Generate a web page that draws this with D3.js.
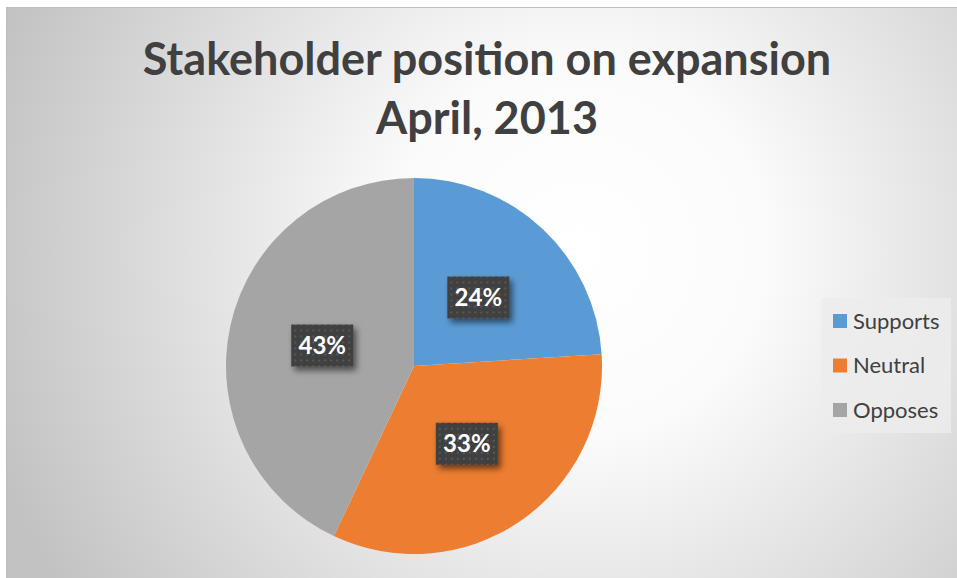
<!DOCTYPE html>
<html>
<head>
<meta charset="utf-8">
<script src="https://cdn.jsdelivr.net/npm/d3@7"></script>
<style>
  html, body { margin: 0; padding: 0; background: #fff; }
  svg { display: block; }
</style>
</head>
<body>
<svg id="chart"></svg>
<script>
// chart data
var categories = ['Supports', 'Neutral', 'Opposes'];
var values = [24, 33, 43];
var colors = ['#5B9BD5', '#ED7D31', '#A5A5A5'];
var titleLines = ['Stakeholder position on expansion', 'April, 2013'];

document.addEventListener('DOMContentLoaded', function () {
    drawChart();
});

function drawChart() {
    var svgWidth = 957, svgHeight = 578;
    var cx = 414, cy = 366, radius = 188;

    var svg = d3.select('#chart')
        .attr('width', svgWidth)
        .attr('height', svgHeight);

    var defs = svg.append('defs');

    // background gradient
    var grad = defs.append('radialGradient')
        .attr('id', 'bg')
        .attr('gradientUnits', 'userSpaceOnUse')
        .attr('cx', 580).attr('cy', 250).attr('r', 620);
    grad.append('stop').attr('offset', '0%').attr('stop-color', '#ffffff');
    grad.append('stop').attr('offset', '30%').attr('stop-color', '#fbfbfb');
    grad.append('stop').attr('offset', '100%').attr('stop-color', '#c2c2c2');

    // dotted pattern for the data label boxes
    var pat = defs.append('pattern')
        .attr('id', 'dots')
        .attr('patternUnits', 'userSpaceOnUse')
        .attr('width', 6).attr('height', 6);
    pat.append('rect').attr('width', 6).attr('height', 6).attr('fill', '#3f3f3f');
    pat.append('rect').attr('x', 2).attr('y', 2).attr('width', 2).attr('height', 2).attr('fill', '#585858');

    var shadow = defs.append('filter')
        .attr('id', 'shadow')
        .attr('x', '-30%').attr('y', '-30%').attr('width', '170%').attr('height', '170%');
    shadow.append('feDropShadow')
        .attr('dx', 3).attr('dy', 4)
        .attr('stdDeviation', 3)
        .attr('flood-color', '#000')
        .attr('flood-opacity', 0.55);

    // chart area
    svg.append('rect')
        .attr('x', 6.5).attr('y', 7.5)
        .attr('width', svgWidth).attr('height', svgHeight)
        .attr('fill', 'url(#bg)')
        .attr('stroke', '#bdbdbd')
        .attr('stroke-width', 1);

    // title
    var title = svg.append('text')
        .attr('text-anchor', 'middle')
        .attr('fill', '#404040')
        .style('font-family', 'Lato, "Open Sans", sans-serif')
        .style('font-weight', 'bold')
        .style('font-size', '45px');
    title.selectAll('tspan')
        .data(titleLines)
        .enter().append('tspan')
        .attr('x', 487)
        .attr('y', (d, i) => 75 + i * 59)
        .text(d => d);

    // pie
    var pie = d3.pie().sort(null).value(d => d.value);
    var data = pie(categories.map((c, i) => ({ name: c, value: values[i], color: colors[i] })));

    var arc = d3.arc().innerRadius(0).outerRadius(radius);

    var g = svg.append('g')
        .attr('transform', 'translate(' + cx + ',' + cy + ')');

    g.selectAll('path')
        .data(data)
        .enter().append('path')
        .attr('d', arc)
        .attr('fill', d => d.data.color);

    // data labels
    var boxW = 62, boxH = 42;
    var labels = g.selectAll('g.label')
        .data(data)
        .enter().append('g')
        .attr('class', 'label')
        .attr('transform', d => 'translate(' + arc.centroid(d) + ')');

    labels.append('rect')
        .attr('x', -boxW / 2).attr('y', -boxH / 2)
        .attr('width', boxW).attr('height', boxH)
        .attr('fill', 'url(#dots)')
        .attr('filter', 'url(#shadow)');

    labels.append('text')
        .attr('text-anchor', 'middle')
        .attr('dy', '0.36em')
        .attr('fill', '#ffffff')
        .style('font-family', 'Lato, "Open Sans", sans-serif')
        .style('font-weight', 'bold')
        .style('font-size', '24px')
        .text(d => d.data.value + '%');

    // legend
    var legend = svg.append('g');
    legend.append('rect')
        .attr('x', 821).attr('y', 298)
        .attr('width', 130).attr('height', 135)
        .attr('fill', '#ececec')
        .attr('fill-opacity', 0.85);

    var items = legend.selectAll('g.item')
        .data(categories)
        .enter().append('g')
        .attr('class', 'item')
        .attr('transform', (d, i) => 'translate(833,' + (321 + i * 44.5) + ')');

    items.append('rect')
        .attr('x', 0).attr('y', -7)
        .attr('width', 14).attr('height', 14)
        .attr('fill', (d, i) => colors[i]);

    items.append('text')
        .attr('x', 20)
        .attr('dy', '0.35em')
        .attr('fill', '#404040')
        .style('font-family', 'Lato, "Open Sans", sans-serif')
        .style('font-size', '22px')
        .text(d => d);
}
</script>
</body>
</html>
